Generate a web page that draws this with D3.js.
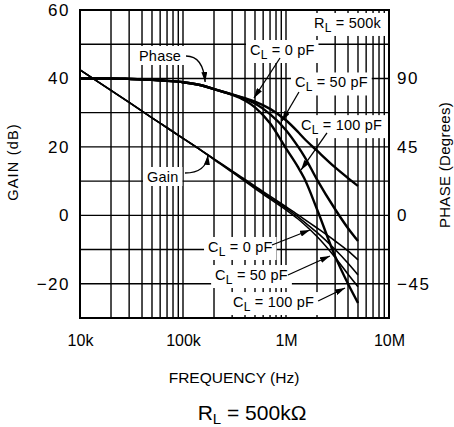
<!DOCTYPE html>
<html>
<head>
<meta charset="utf-8">
<script src="https://cdnjs.cloudflare.com/ajax/libs/d3/7.8.5/d3.min.js"></script>
<style>
body { margin: 0; background: #fff; }
svg text { font-family: "Liberation Sans", Arial, sans-serif; fill: #000; }
</style>
</head>
<body>
<svg id="chart"></svg>
<script>
// frequencies (Hz) shared by every curve
var freqs = [10e3, 20e3, 30e3, 50e3, 70e3, 100e3, 150e3, 200e3, 300e3, 400e3, 500e3, 700e3,
             1e6, 1.3e6, 1.5e6, 2e6, 3e6, 4e6, 5e6];

// gain (dB) for C_L = 0, 50, 100 pF
var gain0   = [42.5, 36.5, 33.0, 28.5, 25.6, 22.5, 19.0, 16.5, 13.0, 10.5, 8.5, 5.6, 2.5, 0.2, -1.1, -3.7, -7.5, -10.4, -13.0];
var gain50  = [42.5, 36.5, 33.0, 28.5, 25.6, 22.5, 19.0, 16.4, 12.8, 10.2, 8.2, 5.2, 2.1, -0.4, -1.9, -5.0, -10.0, -14.0, -17.4];
var gain100 = [42.5, 36.5, 33.0, 28.5, 25.6, 22.5, 19.0, 16.3, 12.6, 9.9, 7.8, 4.8, 1.6, -1.0, -2.6, -6.2, -12.3, -17.2, -20.9];

// phase (degrees) for C_L = 0, 50, 100 pF
var phase0   = [90, 90, 89.7, 89.1, 88.4, 87.5, 85.5, 83, 79.5, 77, 74.8, 70, 62.5, 55, 50.5, 42.5, 31.5, 24.5, 19.3];
var phase50  = [90, 90, 89.7, 89.1, 88.4, 87.5, 85.5, 83, 79.4, 76.5, 73.5, 66.5, 56, 45.5, 39, 23.5, 4, -8.5, -16.9];
var phase100 = [90, 90, 89.7, 89.1, 88.4, 87.5, 85.5, 83, 79.3, 75.5, 71, 60.5, 44, 32, 24.5, 4, -27, -45, -57.6];

// axis ticks
var xTickValues = [1e4, 1e5, 1e6, 1e7];
var xTickLabels = ["10k", "100k", "1M", "10M"];
var gainTicks = [-20, 0, 20, 40, 60];
var phaseTicks = [-45, 0, 45, 90];

// annotations: text, anchor [Hz, dB], arrow from / to [Hz, dB]
var noteText = ["Phase", "Gain", "C_L = 0 pF", "C_L = 50 pF", "C_L = 100 pF",
                "C_L = 0 pF", "C_L = 50 pF", "C_L = 100 pF", "R_L = 500k"];
var noteAt = [[37.4e3, 45.1], [44.7e3, 9.74], [447e3, 46.85], [1.222e6, 37.36], [1.40e6, 24.9],
              [175e3, -10.71], [205e3, -18.9], [306e3, -26.8], [1.87e6, 54.75]];
var arrowFrom = [[107e3, 46.56], [104.5e3, 12.37], [875e3, 45.98], [1.336e6, 36.04], [2.50e6, 24.06],
                 [731e3, -8.67], [1.045e6, -17.43], [2.05e6, -25.03], null];
var arrowTo = [[164e3, 38.97], [175e3, 17.63], [489e3, 34.29], [914e3, 27.57], [1.40e6, 13.25],
               [1.71e6, -4.28], [2.67e6, -11.88], [3.74e6, -21.23], null];
var arrowCurved = [true, true, false, false, false, false, false, false, false];

var width = 454, height = 427;
var plot = {left: 80, right: 389, top: 10, bottom: 318};

var svg = d3.select("#chart").attr("width", width).attr("height", height);

var x = d3.scaleLog().domain([1e4, 1e7]).range([plot.left, plot.right]);
var y = d3.scaleLinear().domain([-30, 60]).range([plot.bottom, plot.top]);
var yPhase = d3.scaleLinear().domain([-67.5, 135]).range([plot.bottom, plot.top]);

var gridLayer = svg.append("g");
var bgLayer = svg.append("g");
var curveLayer = svg.append("g");
var frameLayer = svg.append("g");
var noteLayer = svg.append("g");

// grid
gridLayer.selectAll(".vgrid")
    .data(x.ticks())
    .enter().append("line")
    .attr("x1", function(d){ return x(d); })
    .attr("x2", function(d){ return x(d); })
    .attr("y1", plot.top)
    .attr("y2", plot.bottom)
    .attr("stroke", "#000")
    .attr("stroke-width", 1.4);

gridLayer.selectAll(".hgrid")
    .data(d3.range(-30, 61, 10))
    .enter().append("line")
    .attr("x1", plot.left)
    .attr("x2", plot.right)
    .attr("y1", function(d){ return y(d); })
    .attr("y2", function(d){ return y(d); })
    .attr("stroke", "#000")
    .attr("stroke-width", 1.4);

// curves
function series(vals){
    return freqs.map(function(f, i){ return [f, vals[i]]; });
}
var gainLine = d3.line()
    .x(function(d){ return x(d[0]); })
    .y(function(d){ return y(d[1]); })
    .curve(d3.curveMonotoneX);
var phaseLine = d3.line()
    .x(function(d){ return x(d[0]); })
    .y(function(d){ return yPhase(d[1]); })
    .curve(d3.curveMonotoneX);

[gain0, gain50, gain100].forEach(function(g){
    curveLayer.append("path")
        .attr("d", gainLine(series(g)))
        .attr("fill", "none")
        .attr("stroke", "#000")
        .attr("stroke-width", 1.6);
});
[phase0, phase50, phase100].forEach(function(p){
    curveLayer.append("path")
        .attr("d", phaseLine(series(p)))
        .attr("fill", "none")
        .attr("stroke", "#000")
        .attr("stroke-width", 2.4);
});

// frame
frameLayer.append("rect")
    .attr("x", plot.left)
    .attr("y", plot.top)
    .attr("width", plot.right - plot.left)
    .attr("height", plot.bottom - plot.top)
    .attr("fill", "none")
    .attr("stroke", "#000")
    .attr("stroke-width", 2);

// axes
var axisL = svg.append("g")
    .attr("transform", "translate(" + plot.left + ",0)")
    .call(d3.axisLeft(y).tickValues(gainTicks).tickSize(0).tickPadding(10).tickFormat(d3.format("d")));
axisL.select(".domain").remove();
axisL.attr("font-size", 17).attr("font-family", null);
axisL.selectAll("text").style("letter-spacing", "1.5px");

var axisR = svg.append("g")
    .attr("transform", "translate(" + plot.right + ",0)")
    .call(d3.axisRight(yPhase).tickValues(phaseTicks).tickSize(0).tickPadding(8).tickFormat(d3.format("d")));
axisR.select(".domain").remove();
axisR.attr("font-size", 17).attr("font-family", null);
axisR.selectAll("text").style("letter-spacing", "1.5px");

var axisB = svg.append("g")
    .attr("transform", "translate(0," + plot.bottom + ")")
    .call(d3.axisBottom(x).tickValues(xTickValues).tickSize(0).tickPadding(17)
        .tickFormat(function(d, i){ return xTickLabels[i]; }));
axisB.select(".domain").remove();
axisB.attr("font-size", 16).attr("font-family", null);

// axis titles
svg.append("text")
    .attr("x", 234).attr("y", 383)
    .attr("text-anchor", "middle")
    .attr("font-size", 15.5)
    .text("FREQUENCY (Hz)");

svg.append("text")
    .attr("transform", "translate(18,162) rotate(-90)")
    .attr("text-anchor", "middle")
    .attr("font-size", 14.5)
    .style("letter-spacing", "1.2px")
    .text("GAIN (dB)");

svg.append("text")
    .attr("transform", "translate(450,165) rotate(-90)")
    .attr("text-anchor", "middle")
    .attr("font-size", 15)
    .style("letter-spacing", "0.3px")
    .text("PHASE (Degrees)");

var bottomTitle = svg.append("text")
    .attr("x", 252).attr("y", 420)
    .attr("text-anchor", "middle")
    .attr("font-size", 21);
bottomTitle.append("tspan").text("R");
bottomTitle.append("tspan").attr("font-size", 15).attr("dy", 4).text("L");
bottomTitle.append("tspan").attr("dy", -4).text(" = 500k\u03A9");

// arrowhead
svg.append("defs").append("marker")
    .attr("id", "arrow")
    .attr("markerUnits", "userSpaceOnUse")
    .attr("markerWidth", 10).attr("markerHeight", 6)
    .attr("refX", 10).attr("refY", 3)
    .attr("orient", "auto")
    .append("path")
    .attr("d", "M0,0 L10,3 L0,6 Z")
    .attr("fill", "#000");

// annotations
noteText.forEach(function(t, i){
    var parts = t.split("_");
    var txt = noteLayer.append("text")
        .attr("x", x(noteAt[i][0]))
        .attr("y", y(noteAt[i][1]))
        .attr("font-size", 14.5)
        .style("letter-spacing", "0.2px");
    if (parts.length > 1) {
        txt.append("tspan").text(parts[0]);
        txt.append("tspan").attr("font-size", 12).attr("dy", 4).text(parts[1].charAt(0));
        txt.append("tspan").attr("dy", -4).text(parts[1].slice(1));
    } else {
        txt.text(t);
    }
    var bb = txt.node().getBBox();
    bgLayer.append("rect")
        .attr("x", bb.x - 4).attr("y", bb.y - 2)
        .attr("width", bb.width + 8).attr("height", bb.height + 3)
        .attr("fill", "#fff");

    if (arrowFrom[i]) {
        var x0 = x(arrowFrom[i][0]), y0 = y(arrowFrom[i][1]);
        var x1 = x(arrowTo[i][0]), y1 = y(arrowTo[i][1]);
        var d = arrowCurved[i]
            ? "M" + x0 + "," + y0 + " Q" + (x1 - 2) + "," + y0 + " " + x1 + "," + y1
            : "M" + x0 + "," + y0 + " L" + x1 + "," + y1;
        noteLayer.append("path")
            .attr("d", d)
            .attr("fill", "none")
            .attr("stroke", "#000")
            .attr("stroke-width", 1.3)
            .attr("marker-end", "url(#arrow)");
    }
});
</script>
</body>
</html>
